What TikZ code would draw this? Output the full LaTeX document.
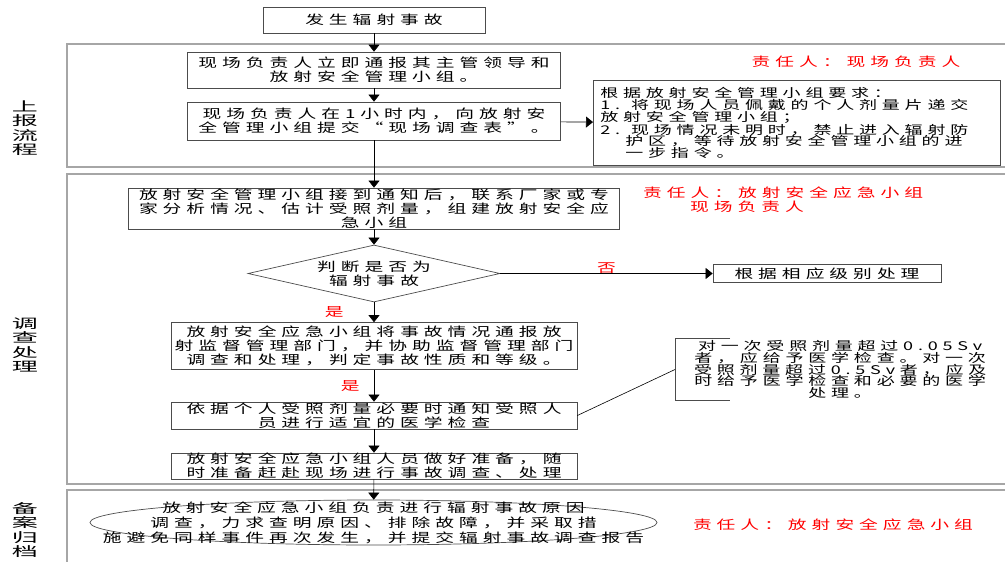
\documentclass[tikz,border=0pt]{standalone}
\usepackage{fontspec}
\usetikzlibrary{positioning}
\usetikzlibrary{arrows.meta}
\usetikzlibrary{shapes.geometric}

\newfontfamily\cjk[FakeStretch=1.5,LetterSpace=40]{Noto Sans CJK SC}
\newfontfamily\sidecjk[FakeStretch=2]{Noto Sans CJK SC}
\newcommand\boxfont{\cjk\fontsize{12.5}{14}\selectfont}
\newcommand\notefont{\cjk\fontsize{12}{11.8}\selectfont}
\newcommand\sidefont{\sidecjk\fontsize{13}{14.5}\selectfont}

\tikzset{
  panel/.style={draw=gray!70, line width=1.5pt},
  stepbox/.style={draw=black!70, line width=0.7pt, inner sep=0pt, align=center, font=\boxfont},
  notebox/.style={draw=black!70, line width=0.7pt, inner sep=7pt, align=left, font=\notefont},
  duty/.style={text=red, font=\boxfont, inner sep=0pt},
  answer/.style={text=red, font=\boxfont, inner sep=0pt},
  side/.style={align=center, font=\sidefont, inner sep=0pt},
  flow/.style={-{Triangle[width=11pt,length=7pt]}, line width=0.6pt},
}

\begin{document}
\begin{tikzpicture}[x=1pt,y=-1pt]
    \useasboundingbox (0,0) rectangle (1005,562);
    \clip (0,0) rectangle (1005,562);

    % Panels
    \draw[panel] (67,44) rectangle (1020,167);
    \draw[panel] (67,174) rectangle (1020,484);
    \draw[panel] (67,490) rectangle (1020,580);

    \node[side] (sideA) at (25,128) {上\\报\\流\\程};
    \node[side] (sideB) at (25,345) {调\\查\\处\\理};
    \node[side] (sideC) at (25,530) {备\\案\\归\\档};

    % Reporting
    \node[stepbox, minimum width=222pt, minimum height=26pt] (start) at (374,20) {发生辐射事故};
    \node[stepbox, minimum width=373pt, minimum height=36pt] (inform) at (374,70) {现场负责人立即通报其主管领导和\\放射安全管理小组。};
    \node[stepbox, minimum width=373pt, minimum height=38pt] (submit) at (374,121) {现场负责人在1小时内，向放射安\\全管理小组提交“现场调查表”。};
    \node[notebox, text width=393pt, minimum height=82pt, anchor=north west] (demand) at (593,80)
        {根据放射安全管理小组要求：\\
         1.\hspace{11pt}将现场人员佩戴的个人剂量片递交\\
         放射安全管理小组；\\
         2.\hspace{11pt}现场情况未明时，禁止进入辐射防\\
         \hspace*{25pt}护区，等待放射安全管理小组的进\\
         \hspace*{25pt}一步指令。};
    \node[duty] (dutyA) at (856,62) {责任人：现场负责人};

    % Investigation
    \node[stepbox, minimum width=491pt, minimum height=41pt] (notify) at (374,208.5) {放射安全管理小组接到通知后，联系厂家或专\\家分析情况、估计受照剂量，组建放射安全应\\急小组};
    \node[duty, align=left, anchor=west] (dutyB) at (643,199.5) {责任人：放射安全应急小组\\\hspace*{47pt}现场负责人};
    \node[stepbox, diamond, aspect=4.4, minimum width=252pt, minimum height=57pt] (judge) at (374,273.5) {判断是否为\\辐射事故};
    \node[stepbox, minimum width=228pt, minimum height=18pt] (level) at (827,273.5) {根据相应级别处理};
    \node[stepbox, minimum width=406pt, minimum height=47pt] (report) at (374,346) {放射安全应急小组将事故情况通报放\\射监督管理部门，并协助监督管理部门\\调查和处理，判定事故性质和等级。};
    \node[stepbox, minimum width=406pt, minimum height=27pt] (check) at (374,415.5) {依据个人受照剂量必要时通知受照人\\员进行适宜的医学检查};
    \node[stepbox, minimum width=406pt, minimum height=26pt] (ready) at (374,466) {放射安全应急小组人员做好准备，随\\时准备赶赴现场进行事故调查、处理};
    \node[anchor=west, align=center, font=\notefont, text width=310pt, inner xsep=10pt, inner ysep=0pt, minimum height=61pt] (dose) at (675,369.5)
        {对一次受照剂量超过0.05Sv\\者，应给予医学检查。对一次\\受照剂量超过0.5Sv者，应及\\时给予医学检查和必要的医学\\处理。};
    \draw[draw=black!70, line width=0.7pt] ([xshift=55pt]dose.north west) -- (dose.north west) -- (dose.south west) -- ([xshift=55pt]dose.south west);

    % Archive
    \node[draw=black!70, line width=0.7pt, ellipse, minimum width=567pt, minimum height=45pt, inner sep=0pt] (cause) at (373.5,522.5) {};
    \node[font=\cjk\fontsize{12.5}{15}\selectfont, align=center, inner sep=0pt] (causetext) at (cause.center)
        {放射安全应急小组负责进行辐射事故原因\\调查，力求查明原因、排除故障，并采取措\\施避免同样事件再次发生，并提交辐射事故调查报告};
    \node[duty] (dutyC) at (833,525) {责任人：放射安全应急小组};

    % Connectors
    \draw[flow] (start) -- (inform);
    \draw[flow] (inform) -- (submit);
    \draw[flow] (submit) -- (demand);
    \draw[flow] (submit) -- (notify);
    \draw[flow] (notify) -- (judge);
    \draw[flow] (judge) -- node[answer, above=0pt] {否} (level);
    \draw[flow] (judge) -- node[answer, left=30pt] {是} (report);
    \draw[flow] (report) -- node[answer, left=14pt] {是} (check);
    \draw[flow] (check) -- (ready);
    \draw[flow] (ready) -- (cause);
    \draw[line width=0.6pt] (check.east) -- (dose.west);

\end{tikzpicture}
\end{document}
